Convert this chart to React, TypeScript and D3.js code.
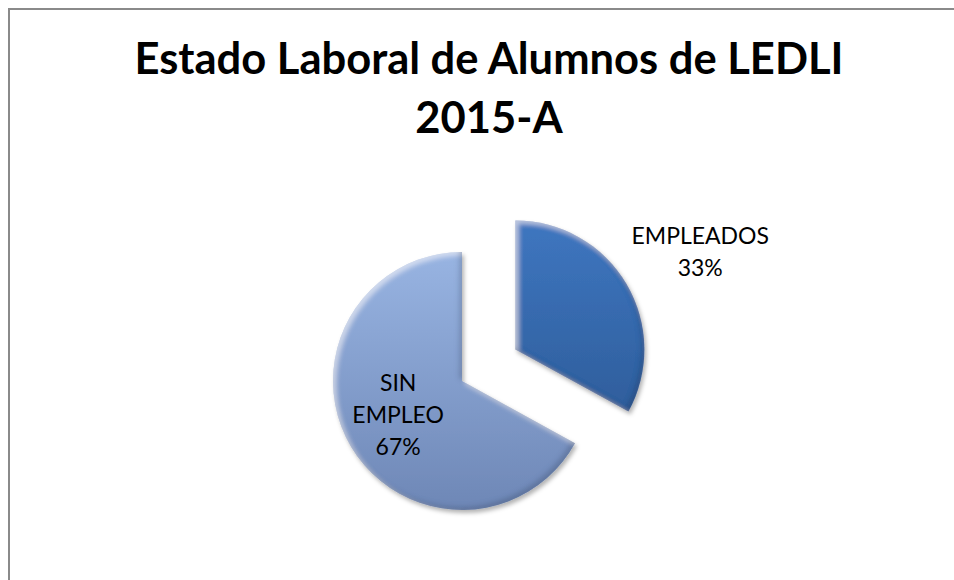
import React from "react";
import * as d3 from "d3";

// chart data
const categories = ["EMPLEADOS", "SIN EMPLEO"];
const percents = [33, 67];
const titleLines = ["Estado Laboral de Alumnos de LEDLI", "2015-A"];

const W = 954;
const H = 580;
const cx = 462;
const cy = 381;
const radius = 129;
const explode = 62;

export default function App() {
  const pie = d3
    .pie<number>()
    .sort(null)
    .value((d) => d);
  const arcs = pie(percents);
  const arc = d3.arc<d3.PieArcDatum<number>>().innerRadius(0).outerRadius(radius);

  const fills = ["url(#gEmp)", "url(#gSin)"];
  // label blocks: line splitting per slice
  const labelLines = [
    ["EMPLEADOS", percents[0] + "%"],
    ["SIN", "EMPLEO", percents[1] + "%"],
  ];
  const labelRadius = [209, 73];
  const nudge = [
    [5, 9],
    [-1, -3],
  ];

  return (
    <svg
      width={W}
      height={H}
      style={{ position: "fixed", left: 0, top: 0, background: "#fff" }}
      fontFamily="Lato, 'Open Sans', sans-serif"
    >
      <defs>
        <linearGradient id="gEmp" x1="0" y1="0" x2="0" y2="1">
          <stop offset="0" stopColor="#3e76c0" />
          <stop offset="1" stopColor="#2f5e9c" />
        </linearGradient>
        <linearGradient id="gSin" x1="0" y1="0" x2="0" y2="1">
          <stop offset="0" stopColor="#98b4e2" />
          <stop offset="1" stopColor="#6e87b6" />
        </linearGradient>
        <filter id="bevel" x="-10%" y="-10%" width="125%" height="125%">
          <feGaussianBlur in="SourceAlpha" stdDeviation="2.5" result="blur" />
          <feOffset in="blur" dx="3" dy="3" result="offDR" />
          <feComposite in="SourceAlpha" in2="offDR" operator="out" result="hlMask" />
          <feFlood floodColor="#ffffff" floodOpacity="0.5" />
          <feComposite in2="hlMask" operator="in" result="hl" />
          <feOffset in="blur" dx="-3" dy="-3" result="offUL" />
          <feComposite in="SourceAlpha" in2="offUL" operator="out" result="shMask" />
          <feFlood floodColor="#1a2c4a" floodOpacity="0.35" />
          <feComposite in2="shMask" operator="in" result="sh" />
          <feGaussianBlur in="SourceAlpha" stdDeviation="2" result="dsb" />
          <feOffset in="dsb" dx="1.5" dy="2.5" result="dso" />
          <feFlood floodColor="#000" floodOpacity="0.3" />
          <feComposite in2="dso" operator="in" result="ds" />
          <feMerge>
            <feMergeNode in="ds" />
            <feMergeNode in="SourceGraphic" />
            <feMergeNode in="hl" />
            <feMergeNode in="sh" />
          </feMerge>
        </filter>
      </defs>

      {/* chart area border, runs off the page right and bottom */}
      <rect x={9} y={9} width={1000} height={1000} fill="#fff" stroke="#8a8a8a" strokeWidth={2} />

      {titleLines.map((t, i) => (
        <text
          key={t}
          x={489}
          y={74 + i * 59}
          textAnchor="middle"
          fontWeight="bold"
          fontSize={43.5}
          fill="#000"
        >
          {t}
        </text>
      ))}

      {arcs.map((a, i) => {
        const mid = (a.startAngle + a.endAngle) / 2;
        const off = i === 0 ? explode : 0;
        const ox = cx + off * Math.sin(mid);
        const oy = cy - off * Math.cos(mid);
        const lx = ox + labelRadius[i] * Math.sin(mid) + nudge[i][0];
        const ly = oy - labelRadius[i] * Math.cos(mid) + nudge[i][1];
        const lines = labelLines[i];
        const lh = 32;
        return (
          <g key={categories[i]}>
            <path
              d={arc(a) || ""}
              transform={`translate(${ox},${oy})`}
              fill={fills[i]}
              filter="url(#bevel)"
            />
            <text textAnchor="middle" fontSize={23} fill="#000">
              {lines.map((l, j) => (
                <tspan key={j} x={lx} y={ly + 8 + (j - (lines.length - 1) / 2) * lh}>
                  {l}
                </tspan>
              ))}
            </text>
          </g>
        );
      })}
    </svg>
  );
}
